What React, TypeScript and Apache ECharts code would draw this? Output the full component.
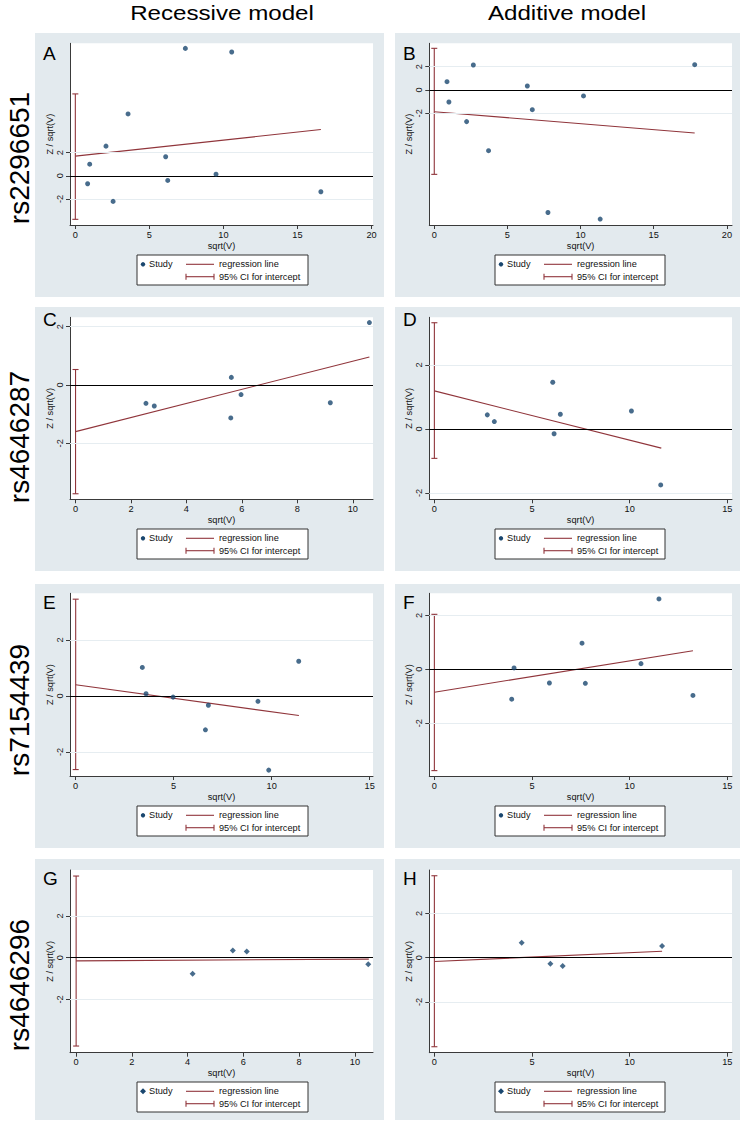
import React, { useEffect, useRef } from "react";
import * as echarts from "echarts";

const FONT = '"Liberation Sans", Arial, Helvetica, sans-serif';
const NAVY = "#1a476f";
const MAROON = "#90353b";
const PANEL_BG = "#e3eaee";
const GRIDLINE = "#e6edf1";
const AXIS = "#3a3a3a";

const columnTitles = ["Recessive model", "Additive model"];
const rowLabels = ["rs2296651", "rs4646287", "rs7154439", "rs4646296"];
const panelLetters = ["A", "B", "C", "D", "E", "F", "G", "H"];
const legendLabels = ["Study", "regression line", "95% CI for intercept"];
const xAxisName = "sqrt(V)";
const yAxisName = "Z / sqrt(V)";

// study points [sqrt(V), Z/sqrt(V)]
const studyA = [[0.83, -0.69], [0.97, 1.0], [2.07, 2.56], [2.55, -2.21], [3.56, 5.34], [6.1, 1.64], [6.24, -0.4], [7.43, 11.0], [9.5, 0.14], [10.56, 10.69], [16.58, -1.38]];
const studyB = [[0.87, 0.71], [1.0, -1.03], [2.21, -2.71], [2.67, 2.14], [3.71, -5.2], [6.36, 0.34], [6.7, -1.69], [7.77, -10.5], [10.2, -0.51], [11.34, -11.06], [17.8, 2.17]];
const studyC = [[2.54, -0.63], [2.84, -0.72], [5.62, 0.26], [5.6, -1.13], [5.97, -0.33], [9.19, -0.61], [10.6, 2.14]];
const studyD = [[2.71, 0.44], [3.07, 0.23], [6.06, 1.46], [6.13, -0.15], [6.45, 0.46], [10.09, 0.56], [11.59, -1.75]];
const studyE = [[3.4, 1.02], [3.59, 0.08], [4.97, -0.04], [6.62, -1.21], [6.77, -0.33], [9.3, -0.19], [9.85, -2.65], [11.38, 1.24]];
const studyF = [[3.96, -1.11], [4.08, 0.05], [5.89, -0.51], [7.56, 0.97], [7.73, -0.52], [10.58, 0.21], [11.5, 2.61], [13.24, -0.97]];
const studyG = [[4.18, -0.77], [5.62, 0.35], [6.12, 0.3], [10.48, -0.32]];
const studyH = [[4.47, 0.68], [5.94, -0.27], [6.57, -0.38], [11.66, 0.53]];

// regression line end points
const regA = [[0, 1.7], [16.58, 3.99]];
const regB = [[0, -1.86], [17.8, -3.69]];
const regC = [[0, -1.6], [10.6, 0.96]];
const regD = [[0, 1.19], [11.62, -0.6]];
const regE = [[0, 0.4], [11.39, -0.7]];
const regF = [[0, -0.85], [13.24, 0.69]];
const regG = [[0, -0.15], [10.5, -0.07]];
const regH = [[0, -0.17], [11.66, 0.29]];

// 95% CI for intercept [low, high]
const ciA = [-3.76, 7.07];
const ciB = [-7.23, 3.57];
const ciC = [-3.73, 0.53];
const ciD = [-0.92, 3.32];
const ciE = [-2.63, 3.46];
const ciF = [-3.76, 2.04];
const ciG = [-4.24, 3.92];
const ciH = [-4.03, 3.71];

// tick labels
const xTicksTo20 = [0, 5, 10, 15, 20];
const xTicksTo15 = [0, 5, 10, 15];
const xTicksBy2 = [0, 2, 4, 6, 8, 10];
const yTicks = [-2, 0, 2];

const panels = [
  { study: studyA, reg: regA, ci: ciA, xTicks: xTicksTo20, x: [-0.36, 20.1], y: [-4.25, 11.44], marker: "circle" },
  { study: studyB, reg: regB, ci: ciB, xTicks: xTicksTo20, x: [-0.34, 20.35], y: [-11.57, 4.0], marker: "circle" },
  { study: studyC, reg: regC, ci: ciC, xTicks: xTicksBy2, x: [-0.2, 10.73], y: [-3.92, 2.32], marker: "circle" },
  { study: studyD, reg: regD, ci: ciD, xTicks: xTicksTo15, x: [-0.26, 15.24], y: [-2.2, 3.49], marker: "circle" },
  { study: studyE, reg: regE, ci: ciE, xTicks: xTicksTo15, x: [-0.29, 15.17], y: [-2.86, 3.67], marker: "circle" },
  { study: studyF, reg: regF, ci: ciF, xTicks: xTicksTo15, x: [-0.26, 15.24], y: [-3.96, 2.82], marker: "circle" },
  { study: studyG, reg: regG, ci: ciG, xTicks: xTicksBy2, x: [-0.22, 10.65], y: [-4.56, 4.21], marker: "diamond" },
  { study: studyH, reg: regH, ci: ciH, xTicks: xTicksTo15, x: [-0.26, 15.24], y: [-4.3, 3.97], marker: "diamond" },
];

// layout
const colPlotLeft = [70, 429.3];
const colPlotWidth = [303, 302.7];
const rowPlotTop = [43.3, 317.3, 593.3, 870];
const rowPlotBottom = [225, 499.3, 776, 1052.7];
const colBgLeft = [35, 395];
const colBgRight = [384, 740];
const rowBgTop = [33, 307, 584, 859];
const rowBgBottom = [297, 571, 848, 1120];
const colLegendLeft = [137, 495];
const colLegendWidth = [171, 170];
const rowLegendTop = [255, 529, 806, 1082];
const colLetterX = [43, 403];
const rowLetterY = [43.5, 309.5, 593, 868.5];
const titleCenters = [222, 567];
const rowLabelCenters = [158, 437, 710, 985];

function buildOption() {
  const grid: any[] = [];
  const xAxis: any[] = [];
  const yAxis: any[] = [];
  const series: any[] = [];
  const graphic: any[] = [];
  const smallText = { fontFamily: FONT, fontSize: 9.2, color: "#111" };

  panels.forEach((p, i) => {
    const col = i % 2;
    const row = Math.floor(i / 2);
    const top = rowPlotTop[row];
    const height = rowPlotBottom[row] - top;
    grid.push({ left: colPlotLeft[col], top, width: colPlotWidth[col], height, containLabel: false });
    // backgrounds
    graphic.push({
      type: "rect", z: -20, silent: true,
      shape: { x: colBgLeft[col], y: rowBgTop[row], width: colBgRight[col] - colBgLeft[col], height: rowBgBottom[row] - rowBgTop[row] },
      style: { fill: PANEL_BG },
    });
    graphic.push({
      type: "rect", z: -19, silent: true,
      shape: { x: colPlotLeft[col], y: top, width: colPlotWidth[col], height },
      style: { fill: "#ffffff" },
    });
    xAxis.push({
      type: "value", gridIndex: i, min: p.x[0], max: p.x[1],
      axisLine: { show: true, onZero: false, lineStyle: { color: AXIS, width: 1 } },
      axisTick: { show: true, length: 4, customValues: p.xTicks, lineStyle: { color: AXIS } },
      axisLabel: { customValues: p.xTicks, margin: 5, ...smallText },
      splitLine: { show: false },
      name: xAxisName, nameLocation: "middle", nameGap: 16,
      nameTextStyle: { ...smallText },
    });
    yAxis.push({
      type: "value", gridIndex: i, min: p.y[0], max: p.y[1],
      axisLine: { show: true, onZero: false, lineStyle: { color: AXIS, width: 1 } },
      axisTick: { show: true, length: 4, customValues: yTicks, lineStyle: { color: AXIS } },
      axisLabel: { customValues: yTicks, rotate: 90, margin: 6, ...smallText },
      splitLine: { show: false },
      name: yAxisName, nameLocation: "middle", nameGap: 16, nameRotate: 90,
      nameTextStyle: { ...smallText },
    });
    series.push({
      type: "line", xAxisIndex: i, yAxisIndex: i, data: p.reg, symbol: "none", z: 3,
      lineStyle: { color: MAROON, width: 1.1 },
      markLine: {
        silent: true, symbol: "none", label: { show: false }, animation: false,
        data: [
          { yAxis: 2, lineStyle: { color: GRIDLINE, width: 1, type: "solid" } },
          { yAxis: -2, lineStyle: { color: GRIDLINE, width: 1, type: "solid" } },
          { yAxis: 0, lineStyle: { color: "#000", width: 1.2, type: "solid" } },
        ],
      },
    });
    series.push({
      type: "custom", xAxisIndex: i, yAxisIndex: i, z: 3,
      data: [[0, p.ci[0], p.ci[1]]],
      encode: { x: 0, y: [1, 2] },
      renderItem: (params: any, api: any) => {
        const a = api.coord([api.value(0), api.value(1)]);
        const b = api.coord([api.value(0), api.value(2)]);
        const st = { stroke: MAROON, lineWidth: 1.1 };
        return {
          type: "group",
          children: [
            { type: "line", shape: { x1: a[0], y1: a[1], x2: b[0], y2: b[1] }, style: st },
            { type: "line", shape: { x1: a[0] - 3, y1: a[1], x2: a[0] + 3, y2: a[1] }, style: st },
            { type: "line", shape: { x1: b[0] - 3, y1: b[1], x2: b[0] + 3, y2: b[1] }, style: st },
          ],
        };
      },
    });
    series.push({
      type: "scatter", xAxisIndex: i, yAxisIndex: i, data: p.study, z: 5,
      symbol: p.marker, symbolSize: p.marker === "diamond" ? 6 : 5,
      itemStyle: { color: NAVY },
    });

    // panel letter
    graphic.push({
      type: "text", z: 50, x: colLetterX[col], y: rowLetterY[row],
      style: { text: panelLetters[i], fontFamily: FONT, fontSize: 19, fill: "#000", verticalAlign: "top", align: "left" },
    });

    // legend box
    const lx = colLegendLeft[col];
    const ly = rowLegendTop[row];
    const r1 = ly + 9.3;
    const r2 = ly + 21.7;
    graphic.push({
      type: "rect", z: 50, shape: { x: lx, y: ly, width: colLegendWidth[col], height: 30 },
      style: { fill: "#fff", stroke: "#333", lineWidth: 1 },
    });
    if (p.marker === "diamond") {
      graphic.push({ type: "polygon", z: 51, shape: { points: [[lx + 6, r1 - 3], [lx + 9, r1], [lx + 6, r1 + 3], [lx + 3, r1]] }, style: { fill: NAVY } });
    } else {
      graphic.push({ type: "circle", z: 51, shape: { cx: lx + 6, cy: r1, r: 2.2 }, style: { fill: NAVY } });
    }
    graphic.push({ type: "text", z: 51, x: lx + 12, y: r1, style: { text: legendLabels[0], fontFamily: FONT, fontSize: 9.2, fill: "#111", verticalAlign: "middle" } });
    graphic.push({ type: "line", z: 51, shape: { x1: lx + 49, y1: r1, x2: lx + 77, y2: r1 }, style: { stroke: MAROON, lineWidth: 1.1 } });
    graphic.push({ type: "text", z: 51, x: lx + 82, y: r1, style: { text: legendLabels[1], fontFamily: FONT, fontSize: 9.2, fill: "#111", verticalAlign: "middle" } });
    graphic.push({ type: "line", z: 51, shape: { x1: lx + 49, y1: r2, x2: lx + 77, y2: r2 }, style: { stroke: MAROON, lineWidth: 1.1 } });
    graphic.push({ type: "line", z: 51, shape: { x1: lx + 49, y1: r2 - 3, x2: lx + 49, y2: r2 + 3 }, style: { stroke: MAROON, lineWidth: 1.1 } });
    graphic.push({ type: "line", z: 51, shape: { x1: lx + 77, y1: r2 - 3, x2: lx + 77, y2: r2 + 3 }, style: { stroke: MAROON, lineWidth: 1.1 } });
    graphic.push({ type: "text", z: 51, x: lx + 82, y: r2, style: { text: legendLabels[2], fontFamily: FONT, fontSize: 9.2, fill: "#111", verticalAlign: "middle" } });
  });

  columnTitles.forEach((t, c) => {
    graphic.push({
      type: "text", z: 50, x: titleCenters[c], y: 13, scaleX: 1.15,
      style: { text: t, fontFamily: FONT, fontSize: 21, fill: "#000", align: "center", verticalAlign: "middle" },
    });
  });
  rowLabels.forEach((t, r) => {
    graphic.push({
      type: "text", z: 50, x: 19, y: rowLabelCenters[r], rotation: Math.PI / 2,
      style: { text: t, fontFamily: FONT, fontSize: 28, fill: "#000", align: "center", verticalAlign: "middle" },
    });
  });

  return {
    animation: false,
    backgroundColor: "#ffffff",
    grid, xAxis, yAxis, series, graphic,
  };
}

export default function App() {
  const ref = useRef<HTMLDivElement>(null);
  useEffect(() => {
    if (!ref.current) return;
    const chart = echarts.init(ref.current, undefined, { renderer: "svg" });
    chart.setOption(buildOption() as any);
    return () => chart.dispose();
  }, []);
  return <div ref={ref} style={{ position: "absolute", left: 0, top: 0, width: 742, height: 1125 }} />;
}
